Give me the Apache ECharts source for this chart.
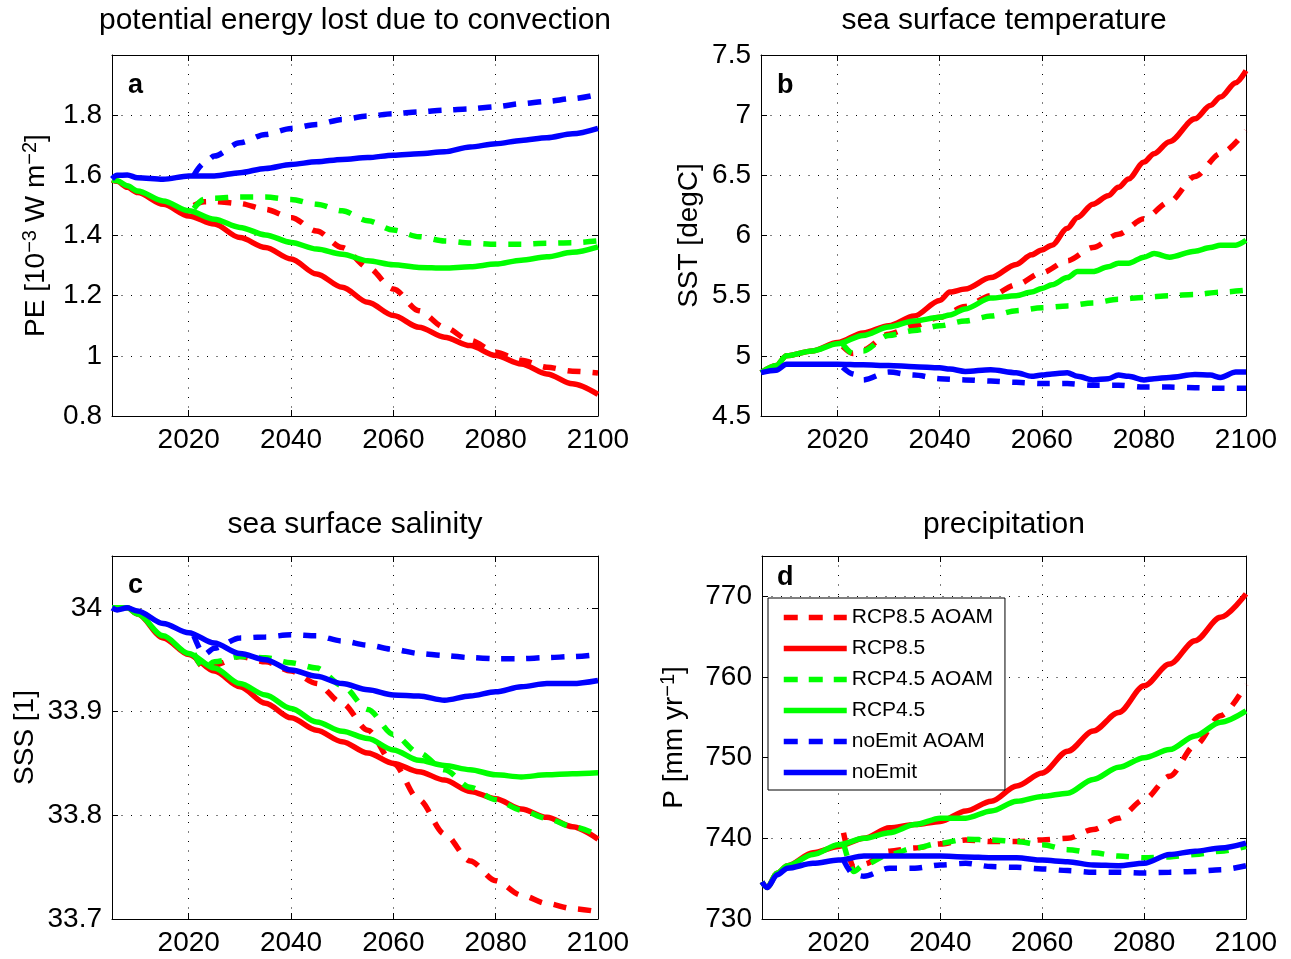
<!DOCTYPE html>
<html><head><meta charset="utf-8">
<script src="https://cdn.jsdelivr.net/npm/echarts@6/dist/echarts.min.js"></script>
<style>html,body{margin:0;padding:0;background:#fff}#c{width:1291px;height:959px}</style>
</head><body><div id="c"></div>
<script>
// ---------- data ----------
const seriesNames = ['RCP8.5 AOAM', 'RCP8.5', 'RCP4.5 AOAM', 'RCP4.5', 'noEmit AOAM', 'noEmit'];
const panelTitles = ['potential energy lost due to convection', 'sea surface temperature', 'sea surface salinity', 'precipitation'];
const panelLetters = ['a', 'b', 'c', 'd'];

const ctlYears = [2005, 2006, 2008, 2010, 2015, 2020, 2025, 2030, 2035, 2040, 2045, 2050, 2055, 2060, 2065, 2070, 2075, 2080, 2085, 2090, 2095, 2100];
const aoamYears = [2021, 2023, 2025, 2030, 2035, 2040, 2045, 2050, 2055, 2060, 2065, 2070, 2075, 2080, 2085, 2090, 2095, 2100];
const sstYears = [2005, 2008, 2010, 2015, 2020, 2025, 2030, 2035, 2040, 2042, 2045, 2050, 2055, 2058, 2060, 2062, 2065, 2067, 2070, 2073, 2075, 2077, 2080, 2082, 2085, 2090, 2093, 2095, 2098, 2100];

// a: potential energy lost [1e-3 W m-2]
const peRcp85 = [1.585, 1.580, 1.560, 1.543, 1.504, 1.465, 1.438, 1.393, 1.360, 1.322, 1.272, 1.228, 1.178, 1.134, 1.095, 1.062, 1.034, 1.001, 0.973, 0.940, 0.907, 0.872];
const peRcp45 = [1.585, 1.582, 1.565, 1.548, 1.515, 1.482, 1.454, 1.427, 1.402, 1.377, 1.355, 1.338, 1.316, 1.303, 1.294, 1.292, 1.296, 1.305, 1.318, 1.329, 1.344, 1.362];
const peNoEmit = [1.588, 1.600, 1.601, 1.592, 1.587, 1.598, 1.598, 1.609, 1.623, 1.636, 1.645, 1.653, 1.659, 1.667, 1.672, 1.678, 1.694, 1.705, 1.716, 1.725, 1.738, 1.756];
const peRcp85A = [1.500, 1.512, 1.513, 1.506, 1.487, 1.460, 1.415, 1.360, 1.294, 1.222, 1.150, 1.095, 1.051, 1.012, 0.985, 0.962, 0.949, 0.943];
const peRcp45A = [1.490, 1.520, 1.524, 1.528, 1.528, 1.520, 1.504, 1.482, 1.449, 1.418, 1.396, 1.382, 1.375, 1.371, 1.371, 1.374, 1.376, 1.382];
const peNoEmitA = [1.600, 1.640, 1.664, 1.708, 1.736, 1.756, 1.769, 1.786, 1.797, 1.805, 1.811, 1.817, 1.821, 1.828, 1.838, 1.846, 1.855, 1.869];

// b: sea surface temperature [degC]
const sstRcp85 = [4.86, 4.92, 5.00, 5.04, 5.11, 5.19, 5.25, 5.33, 5.46, 5.53, 5.555, 5.65, 5.76, 5.84, 5.88, 5.92, 6.06, 6.15, 6.26, 6.33, 6.40, 6.47, 6.61, 6.68, 6.78, 6.97, 7.08, 7.15, 7.27, 7.37];
const sstRcp45 = [4.86, 4.92, 5.00, 5.04, 5.10, 5.17, 5.24, 5.29, 5.32, 5.34, 5.39, 5.48, 5.50, 5.53, 5.56, 5.59, 5.65, 5.70, 5.70, 5.74, 5.77, 5.77, 5.82, 5.85, 5.82, 5.87, 5.90, 5.92, 5.92, 5.96];
const sstNoEmit = [4.86, 4.88, 4.93, 4.93, 4.93, 4.925, 4.92, 4.91, 4.90, 4.89, 4.87, 4.885, 4.86, 4.83, 4.84, 4.85, 4.86, 4.83, 4.80, 4.81, 4.84, 4.83, 4.80, 4.81, 4.82, 4.845, 4.84, 4.82, 4.865, 4.865];
const sstRcp85A = [5.08, 5.02, 5.05, 5.18, 5.25, 5.32, 5.41, 5.50, 5.59, 5.69, 5.79, 5.90, 6.01, 6.14, 6.28, 6.49, 6.68, 6.87];
const sstRcp45A = [5.10, 5.02, 5.04, 5.17, 5.21, 5.25, 5.29, 5.33, 5.375, 5.40, 5.415, 5.44, 5.47, 5.485, 5.50, 5.51, 5.53, 5.545];
const sstNoEmitA = [4.905, 4.85, 4.80, 4.865, 4.84, 4.81, 4.80, 4.79, 4.78, 4.77, 4.77, 4.755, 4.755, 4.74, 4.74, 4.735, 4.73, 4.73];

// c: sea surface salinity [1]
const sssRcp85 = [34.0, 34.0, 34.0, 33.994, 33.971, 33.955, 33.939, 33.924, 33.908, 33.894, 33.882, 33.871, 33.86, 33.85, 33.842, 33.834, 33.823, 33.816, 33.806, 33.798, 33.789, 33.777];
const sssRcp45 = [34.0, 34.0, 34.0, 33.994, 33.973, 33.956, 33.942, 33.927, 33.916, 33.903, 33.89, 33.881, 33.874, 33.863, 33.853, 33.848, 33.844, 33.839, 33.837, 33.839, 33.840, 33.841];
const sssNoEmit = [34.0, 33.998, 34.0, 33.997, 33.985, 33.976, 33.966, 33.956, 33.95, 33.94, 33.934, 33.927, 33.921, 33.916, 33.915, 33.911, 33.915, 33.919, 33.924, 33.927, 33.927, 33.930];
const sssRcp85A = [33.955, 33.942, 33.945, 33.953, 33.948, 33.939, 33.927, 33.908, 33.882, 33.85, 33.815, 33.782, 33.756, 33.737, 33.723, 33.715, 33.71, 33.707];
const sssRcp45A = [33.956, 33.942, 33.948, 33.953, 33.952, 33.947, 33.942, 33.925, 33.902, 33.878, 33.86, 33.844, 33.827, 33.815, 33.805, 33.797, 33.789, 33.781];
const sssNoEmitA = [33.973, 33.955, 33.961, 33.971, 33.972, 33.974, 33.973, 33.968, 33.964, 33.960, 33.956, 33.954, 33.952, 33.951, 33.951, 33.952, 33.953, 33.955];

// d: precipitation [mm yr-1]
const prRcp85 = [734.6, 733.9, 735.7, 736.6, 738.2, 739.0, 740.0, 741.3, 741.7, 742.1, 743.4, 744.6, 746.5, 748.1, 750.8, 753.3, 755.6, 758.9, 761.6, 764.5, 767.4, 770.3];
const prRcp45 = [734.6, 733.9, 735.7, 736.6, 738.0, 739.2, 740.0, 740.7, 741.7, 742.5, 742.5, 743.4, 744.6, 745.2, 745.6, 747.3, 748.8, 750.0, 751.0, 752.7, 754.4, 755.8];
const prNoEmit = [734.6, 733.9, 735.5, 736.3, 736.9, 737.3, 737.8, 737.8, 737.8, 737.8, 737.7, 737.6, 737.6, 737.3, 737.1, 736.7, 736.6, 736.9, 738.0, 738.4, 738.8, 739.4];
const prRcp85A = [740.7, 736.4, 736.8, 738.4, 738.8, 739.3, 739.8, 739.6, 739.6, 739.8, 740.0, 741.1, 742.5, 744.8, 747.7, 751.5, 755.2, 759.1];
const prRcp45A = [739.4, 735.9, 736.7, 738.0, 738.8, 739.4, 739.9, 739.8, 739.6, 739.2, 738.6, 738.2, 737.8, 737.6, 737.7, 738.0, 738.4, 739.0];
const prNoEmitA = [737.3, 735.5, 735.3, 736.3, 736.3, 736.7, 736.9, 736.5, 736.4, 736.2, 736.0, 735.8, 735.8, 735.7, 735.8, 735.9, 736.1, 736.6];

// ---------- layout / style ----------
const FONT = '"Liberation Sans", Arial, Helvetica, sans-serif';
const colors = ['#ff0000', '#ff0000', '#00ff00', '#00ff00', '#0000ff', '#0000ff'];
const dashed = [true, false, true, false, true, false];
const LW = 5.5;
const DASH = [13, 12];

const zip = (xs, ys) => xs.map((x, i) => [x, ys[i]]);

const panels = [
  { rect: { left: 112, top: 55, width: 486, height: 361 }, min: 0.8, max: 2.0, interval: 0.2, hideAbove: 1.95,
    name: '{n|PE [10}{s|−3}{n| W m}{s|−2}{n|]}', nameGap: 53,
    title: [355, 21], letter: [128, 86],
    lines: [[aoamYears, peRcp85A], [ctlYears, peRcp85], [aoamYears, peRcp45A], [ctlYears, peRcp45], [aoamYears, peNoEmitA], [ctlYears, peNoEmit]] },
  { rect: { left: 761, top: 55, width: 485, height: 361 }, min: 4.5, max: 7.5, interval: 0.5, hideAbove: 99,
    name: '{n|SST [degC]}', nameGap: 58,
    title: [1004, 21], letter: [777, 86],
    lines: [[aoamYears, sstRcp85A], [sstYears, sstRcp85], [aoamYears, sstRcp45A], [sstYears, sstRcp45], [aoamYears, sstNoEmitA], [sstYears, sstNoEmit]] },
  { rect: { left: 112, top: 556, width: 486, height: 363 }, min: 33.7, max: 34.05, interval: 0.1, hideAbove: 34.02,
    name: '{n|SSS [1]}', nameGap: 73,
    title: [355, 525], letter: [128, 586],
    lines: [[aoamYears, sssRcp85A], [ctlYears, sssRcp85], [aoamYears, sssRcp45A], [ctlYears, sssRcp45], [aoamYears, sssNoEmitA], [ctlYears, sssNoEmit]] },
  { rect: { left: 762, top: 556, width: 484, height: 363 }, min: 730, max: 775, interval: 10, hideAbove: 771,
    name: '{n|P [mm yr}{s|−1}{n|]}', nameGap: 74,
    title: [1004, 525], letter: [777, 578],
    lines: [[aoamYears, prRcp85A], [ctlYears, prRcp85], [aoamYears, prRcp45A], [ctlYears, prRcp45], [aoamYears, prNoEmitA], [ctlYears, prNoEmit]] }
];

const grid = [], xAxis = [], yAxis = [], series = [], graphic = [];
const gridDots = { show: true, lineStyle: { color: '#000', width: 1, type: [1, 8.5] } };
const tickIn = { show: true, inside: true, length: 6, lineStyle: { color: '#000', width: 1 } };
const blackLine = { show: true, lineStyle: { color: '#000', width: 1 } };

panels.forEach((p, i) => {
  grid.push(Object.assign({ containLabel: false, show: false }, p.rect));
  xAxis.push({
    gridIndex: i, type: 'value', min: 2005, max: 2100, splitNumber: 5, position: 'bottom',
    axisLine: blackLine, axisTick: tickIn, splitLine: gridDots,
    axisLabel: { fontSize: 28, color: '#000', fontFamily: FONT, margin: 10,
      formatter: v => (Math.round(v) % 20 === 0 ? String(Math.round(v)) : '') }
  });
  yAxis.push({
    gridIndex: i, type: 'value', min: p.min, max: p.max, interval: p.interval, position: 'left',
    axisLine: blackLine, axisTick: tickIn, splitLine: gridDots,
    axisLabel: { fontSize: 28, color: '#000', fontFamily: FONT, margin: 10,
      formatter: v => (v > p.hideAbove ? '' : String(+v.toFixed(3))) },
    name: p.name, nameLocation: 'middle', nameGap: p.nameGap,
    nameTextStyle: { color: '#000', fontFamily: FONT, fontSize: 28,
      rich: {
        n: { fontSize: 28, fontFamily: FONT, color: '#000', lineHeight: 30, verticalAlign: 'bottom' },
        s: { fontSize: 20, fontFamily: FONT, color: '#000', lineHeight: 20, verticalAlign: 'top', padding: [0, 0, 19, 0] }
      } }
  });
  p.lines.forEach((ln, k) => {
    series.push({
      type: 'line', name: seriesNames[k], xAxisIndex: i, yAxisIndex: i,
      data: zip(ln[0], ln[1]), symbol: 'none', smooth: 0.3, smoothMonotone: 'x',
      lineStyle: { color: colors[k], width: LW, type: dashed[k] ? DASH : 'solid', cap: 'butt' },
      itemStyle: { color: colors[k] },
      emphasis: { disabled: true }, z: 2 + k
    });
  });
  graphic.push({ type: 'text', x: p.title[0], y: p.title[1],
    style: { text: panelTitles[i], fill: '#000', font: '30px ' + FONT, textAlign: 'center', textVerticalAlign: 'middle' } });
  graphic.push({ type: 'text', x: p.letter[0], y: p.letter[1], z: 20,
    style: { text: panelLetters[i], fill: '#000', font: 'bold 27px ' + FONT, textAlign: 'left', textVerticalAlign: 'middle' } });
});
// box sides with inward ticks (top and right)
panels.forEach((p, i) => {
  xAxis.push({ gridIndex: i, type: 'value', min: 2005, max: 2100, splitNumber: 5, position: 'top',
    axisLine: blackLine, axisTick: tickIn, axisLabel: { show: false }, splitLine: { show: false } });
  yAxis.push({ gridIndex: i, type: 'value', min: p.min, max: p.max, interval: p.interval, position: 'right',
    axisLine: blackLine, axisTick: tickIn, axisLabel: { show: false }, splitLine: { show: false } });
});

const legendData = seriesNames.map((nm, k) => ({
  name: nm,
  itemStyle: { opacity: 0, borderWidth: 0 },
  lineStyle: { color: colors[k], width: LW, type: dashed[k] ? [14, 11] : 'solid', cap: 'butt', opacity: 1 }
}));

const chart = echarts.init(document.getElementById('c'), null, { renderer: 'canvas' });
chart.setOption({
  backgroundColor: '#fff',
  animation: false,
  grid, xAxis, yAxis, series, graphic,
  legend: {
    show: true, orient: 'vertical', left: 768, top: 598, data: legendData,
    itemWidth: 63, itemHeight: 10, itemGap: 10, padding: [9, 12, 7, 13],
    backgroundColor: '#fff', borderColor: '#000', borderWidth: 1, borderRadius: 0,
    selectedMode: false, z: 30,
    textStyle: { fontSize: 21, lineHeight: 21, color: '#000', fontFamily: FONT }
  }
});
</script>
</body></html>
